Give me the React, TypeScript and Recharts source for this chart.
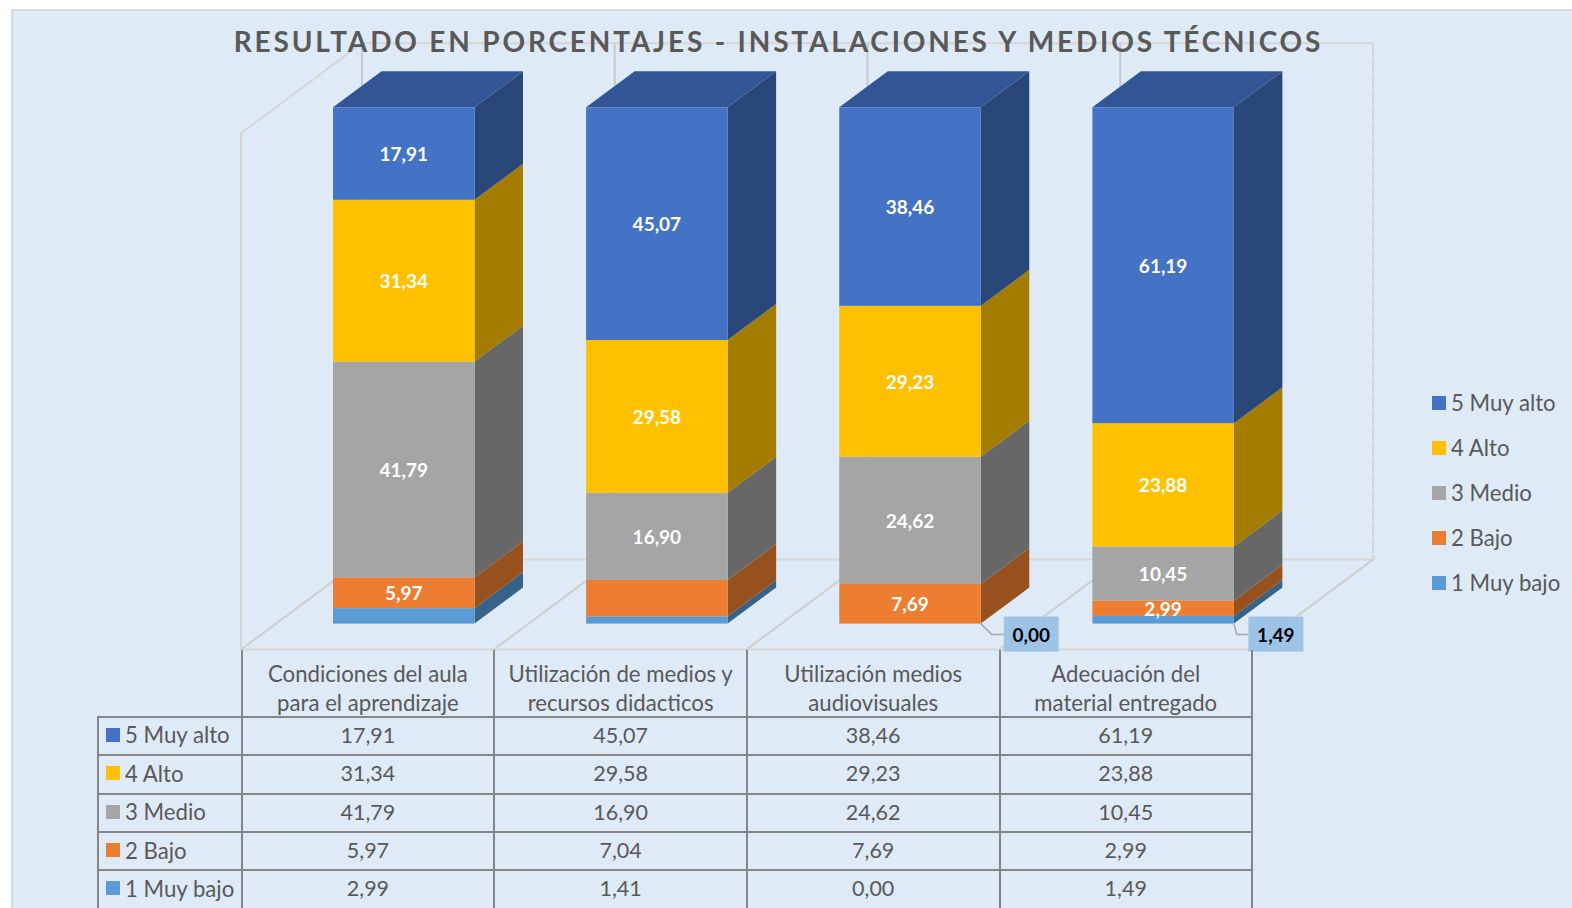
import { BarChart, Bar, XAxis, YAxis, LabelList } from 'recharts';

const categories = [
  ['Condiciones del aula', 'para el aprendizaje'],
  ['Utilización de medios y', 'recursos didacticos'],
  ['Utilización medios', 'audiovisuales'],
  ['Adecuación del', 'material entregado'],
];
const muyAlto = [17.91, 45.07, 38.46, 61.19];
const alto = [31.34, 29.58, 29.23, 23.88];
const medio = [41.79, 16.9, 24.62, 10.45];
const bajo = [5.97, 7.04, 7.69, 2.99];
const muyBajo = [2.99, 1.41, 0.0, 1.49];

const seriesNames = ['5 Muy alto', '4 Alto', '3 Medio', '2 Bajo', '1 Muy bajo'];
const seriesValues = [muyAlto, alto, medio, bajo, muyBajo];
const frontColors = ['#4472c4', '#ffc000', '#a5a5a5', '#ed7d31', '#5b9bd5'];
const sideColors = ['#2a4779', '#a37c00', '#676767', '#97521f', '#376388'];
const topColor = '#325596';

const chartData = categories.map((c, i) => {
  const row: Record<string, string | number> = { name: c.join(' ') };
  seriesNames.forEach((s, j) => {
    row[s] = seriesValues[j][i];
  });
  return row;
});

const fmt = (v: number) => v.toFixed(2).replace('.', ',');
const FONT = 'Lato, sans-serif';
const DX = 48.5;
const DY = 36;

// back walls and floor of the 3d box
const WALL = { x0: 241, x1: 1252, depthX: 121, depthY: 90, top: 133.3, floor: 649.6 };
const colX = [241.6, 494.3, 746.9, 999.5, 1252];
const rowY = [716.8, 755, 793.5, 832, 870, 908.5];

function Walls() {
  const { x0, x1, depthX, depthY, top, floor } = WALL;
  const step = (x1 - x0) / 4;
  const ticks = [0, 1, 2, 3, 4].map((i) => x0 + i * step);
  const c = '#d6d6d6';
  return (
    <svg width={1572} height={908} style={{ position: 'absolute', left: 0, top: 0 }}>
      <g stroke={c} strokeWidth={2} fill="none">
        <path d={`M${x0} ${floor}V${top}L${x0 + depthX} ${top - depthY}H${x1 + depthX}`} />
        <path d={`M${x1 + depthX} ${top - depthY}V${floor - depthY}`} strokeDasharray="14 2" />
        <path d={`M${x0} ${floor}H${x1}L${x1 + depthX} ${floor - depthY}H${x0 + depthX}`} />
        {ticks.map((t) => (
          <path key={t} d={`M${t} ${floor}L${t + depthX} ${floor - depthY}`} stroke="#cfcfcf" />
        ))}
        {ticks.slice(0, 4).map((t) => (
          <path key={t} d={`M${t + depthX} ${top - depthY}V${floor - depthY}`} stroke="#c8c8c8" />
        ))}
      </g>
    </svg>
  );
}

function Bar3D(props: any) {
  const { x, y, width, height, seriesIndex } = props;
  const r = x + width;
  return (
    <g>
      <polygon
        points={`${r},${y} ${r + DX},${y - DY} ${r + DX},${y + height - DY} ${r},${y + height}`}
        fill={sideColors[seriesIndex]}
      />
      {seriesIndex === 0 && (
        <polygon
          points={`${x},${y} ${x + DX},${y - DY} ${r + DX},${y - DY} ${r},${y}`}
          fill={topColor}
        />
      )}
      <rect x={x} y={y} width={width} height={height} fill={frontColors[seriesIndex]} />
    </g>
  );
}

// which cells have a plain label, per series
const plainLabels = [
  [0, 1, 2, 3],
  [0, 1, 2, 3],
  [0, 1, 2, 3],
  [0, 2, 3],
  [],
];
const calloutLabels = [2, 3];

function SegmentLabel(props: any) {
  const { x, y, width, height, value, index, seriesIndex } = props;
  if (!plainLabels[seriesIndex].includes(index)) return null;
  return (
    <text
      x={x + width / 2}
      y={y + height / 2}
      textAnchor="middle"
      dominantBaseline="central"
      fill="#fff"
      fontFamily={FONT}
      fontWeight={700}
      fontSize={19}
    >
      {fmt(Number(value))}
    </text>
  );
}

function CalloutLabel(props: any) {
  const { x, y, width, height, value, index } = props;
  if (!calloutLabels.includes(index)) return null;
  const r = x + width;
  const b = y + height;
  const bend = index === 2 ? 11 : 3;
  const gap = index === 2 ? 23 : 14.5;
  return (
    <g>
      <path d={`M${r} ${b}L${r + bend} ${b + 11}H${r + gap}`} fill="none" stroke="#a6a6a6" strokeWidth={1.5} />
      <rect x={r + gap} y={b - 7} width={55} height={35} fill="#9dc3e6" />
      <text
        x={r + gap + 27.5}
        y={b + 11}
        textAnchor="middle"
        dominantBaseline="central"
        fill="#000"
        fontFamily={FONT}
        fontWeight={700}
        fontSize={19}
      >
        {fmt(Number(value))}
      </text>
    </g>
  );
}

function Swatch({ color, x, y, size }: { color: string; x: number; y: number; size: number }) {
  return <div style={{ position: 'absolute', left: x, top: y, width: size, height: size, background: color }} />;
}

function DataTable() {
  const line = '2px solid #858585';
  const text = { position: 'absolute', color: '#595959', fontFamily: FONT, fontSize: 22.2, lineHeight: '29px', whiteSpace: 'nowrap' } as const;
  return (
    <div>
      {colX.map((x) => (
        <div key={x} style={{ position: 'absolute', left: x - 1, top: 650, width: 0, height: 258, borderLeft: line }} />
      ))}
      <div style={{ position: 'absolute', left: 97, top: rowY[0] - 1, width: 0, height: 192, borderLeft: line }} />
      {rowY.map((y) => (
        <div key={y} style={{ position: 'absolute', left: 97, top: y - 1, width: 1156, height: 0, borderTop: line }} />
      ))}
      {categories.map((c, i) => (
        <div
          key={c[0]}
          style={{ ...text, left: colX[i], top: 659, width: colX[i + 1] - colX[i], textAlign: 'center' }}
        >
          {c[0]}
          <br />
          {c[1]}
        </div>
      ))}
      {seriesNames.map((s, j) => (
        <div key={s}>
          <Swatch color={frontColors[j]} x={106} y={rowY[j] + 11} size={14} />
          <div style={{ ...text, left: 125, top: rowY[j] + 3.5 }}>{s}</div>
          {seriesValues[j].map((v, i) => (
            <div
              key={i}
              style={{ ...text, fontSize: 21.5, left: colX[i], top: rowY[j] + 4, width: colX[i + 1] - colX[i], textAlign: 'center' }}
            >
              {fmt(v)}
            </div>
          ))}
        </div>
      ))}
    </div>
  );
}

function LegendBlock() {
  return (
    <div>
      {seriesNames.map((s, j) => (
        <div key={s}>
          <Swatch color={frontColors[j]} x={1432} y={396 + j * 45} size={14} />
          <div
            style={{
              position: 'absolute',
              left: 1451,
              top: 388 + j * 45,
              color: '#595959',
              fontFamily: FONT,
              fontSize: 22.2,
              lineHeight: '29px',
              whiteSpace: 'nowrap',
            }}
          >
            {s}
          </div>
        </div>
      ))}
    </div>
  );
}

export default function App() {
  const stackOrder = [4, 3, 2, 1, 0];
  return (
    <div style={{ position: 'absolute', left: 0, top: 0, width: 1572, height: 908, overflow: 'hidden', background: '#fff' }}>
      <div
        style={{
          position: 'absolute',
          left: 11,
          top: 9,
          width: 1572,
          height: 920,
          background: '#deeaf6',
          border: '2px solid #d9d9d9',
        }}
      />
      <Walls />
      <div style={{ position: 'absolute', left: 0, top: 0 }}>
        <BarChart
          width={1572}
          height={908}
          data={chartData}
          margin={{ left: 277, right: 282.5, top: 107.3, bottom: 284.4 }}
          barSize={141.5}
          style={{ background: 'transparent' }}
        >
          <XAxis dataKey="name" hide />
          <YAxis hide type="number" domain={[0, 100]} />
          {stackOrder.map((j) => (
            <Bar
              key={seriesNames[j]}
              dataKey={seriesNames[j]}
              stackId="a"
              isAnimationActive={false}
              shape={(p: any) => <Bar3D {...p} seriesIndex={j} />}
            >
              <LabelList
                dataKey={seriesNames[j]}
                content={(p: any) =>
                  j === 4 ? <CalloutLabel {...p} /> : <SegmentLabel {...p} seriesIndex={j} />
                }
              />
            </Bar>
          ))}
        </BarChart>
      </div>
      <div
        style={{
          position: 'absolute',
          left: 0,
          top: 22,
          width: 1557,
          textAlign: 'center',
          color: '#595959',
          fontFamily: FONT,
          fontWeight: 700,
          fontSize: 28,
          letterSpacing: 2.83,
          lineHeight: '38px',
          whiteSpace: 'nowrap',
        }}
      >
        RESULTADO EN PORCENTAJES - INSTALACIONES Y MEDIOS TÉCNICOS
      </div>
      <DataTable />
      <LegendBlock />
    </div>
  );
}
